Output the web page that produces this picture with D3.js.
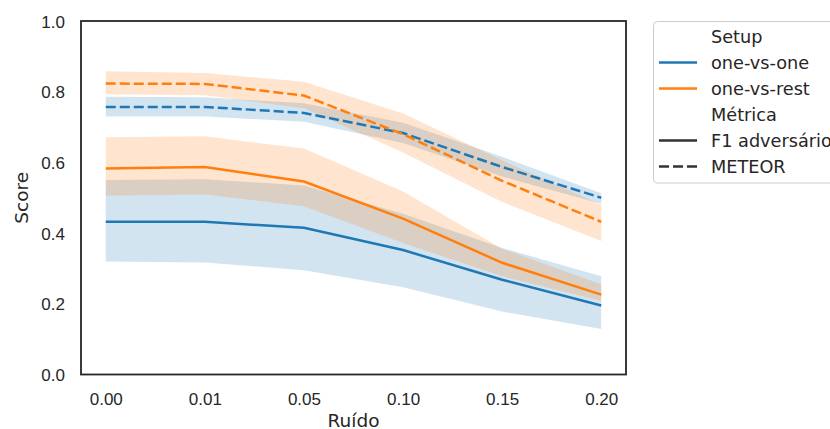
<!DOCTYPE html>
<html><head><meta charset="utf-8">
<script src="https://cdn.jsdelivr.net/npm/d3@7"></script>
<style>body{margin:0;background:#fff;} svg{display:block;font-family:"DejaVu Sans",sans-serif;}</style>
</head><body>
<svg id="chart" width="830" height="429"></svg>
<script>
// ---- data ----
const xLabels = ["0.00","0.01","0.05","0.10","0.15","0.20"];
const yTicks = [0.0,0.2,0.4,0.6,0.8,1.0];
const setups = ["one-vs-one","one-vs-rest"];
const metrics = ["F1 adversário","METEOR"];

const ovoF1    = [0.432,0.432,0.415,0.352,0.268,0.195];
const ovoF1Lo  = [0.320,0.317,0.295,0.247,0.178,0.129];
const ovoF1Hi  = [0.550,0.552,0.535,0.455,0.358,0.278];
const ovrF1    = [0.583,0.587,0.546,0.441,0.316,0.226];
const ovrF1Lo  = [0.506,0.509,0.476,0.372,0.278,0.208];
const ovrF1Hi  = [0.671,0.674,0.639,0.518,0.356,0.255];
const ovoMet   = [0.757,0.757,0.740,0.683,0.587,0.500];
const ovoMetLo = [0.730,0.730,0.715,0.655,0.560,0.483];
const ovoMetHi = [0.786,0.784,0.767,0.712,0.616,0.513];
const ovrMet   = [0.823,0.822,0.789,0.680,0.548,0.432];
const ovrMetLo = [0.793,0.790,0.753,0.628,0.488,0.378];
const ovrMetHi = [0.858,0.853,0.828,0.738,0.606,0.480];

const series = [
  {setup:"one-vs-one", metric:"F1 adversário", mean:ovoF1, lo:ovoF1Lo, hi:ovoF1Hi},
  {setup:"one-vs-one", metric:"METEOR", mean:ovoMet, lo:ovoMetLo, hi:ovoMetHi},
  {setup:"one-vs-rest", metric:"F1 adversário", mean:ovrF1, lo:ovrF1Lo, hi:ovrF1Hi},
  {setup:"one-vs-rest", metric:"METEOR", mean:ovrMet, lo:ovrMetLo, hi:ovrMetHi},
];

// ---- styles ----
const color = d3.scaleOrdinal().domain(setups).range(["#1f77b4","#ff7f0e"]);
const dash = d3.scaleOrdinal().domain(metrics).range([null,"10,4"]);
const textColor = "#262626";

const svg = d3.select("#chart");
const L = 81, R = 626, T = 21, B = 374.5;
const x = d3.scalePoint().domain(xLabels).range([L,R]).padding(0.25);
const y = d3.scaleLinear().domain([0,1]).range([B,T]);

// bands
const area = d3.area().x((d,i)=>x(xLabels[i])).y0(d=>y(d[0])).y1(d=>y(d[1]));
const line = d3.line().x((d,i)=>x(xLabels[i])).y(d=>y(d));
series.forEach(s=>{
  const pts = s.lo.map((v,i)=>[v,s.hi[i]]);
  svg.append("path").attr("d",area(pts)).attr("fill",color(s.setup)).attr("fill-opacity",0.2).attr("stroke","none");
});
series.forEach(s=>{
  svg.append("path").attr("d",line(s.mean)).attr("fill","none")
    .attr("stroke",color(s.setup)).attr("stroke-width",2.5)
    .attr("stroke-dasharray",dash(s.metric));
});

// axes
const fs = 17;
const xAxis = d3.axisBottom(x).tickSize(0).tickPadding(0);
const gx = svg.append("g").attr("transform",`translate(0,${B})`).call(xAxis);
gx.select(".domain").remove();
gx.selectAll("text").attr("font-size",fs).attr("fill",textColor).attr("dy",null).attr("y",30);
const yAxis = d3.axisLeft(y).tickValues(yTicks).tickFormat(d3.format(".1f")).tickSize(0).tickPadding(0);
const gy = svg.append("g").attr("transform",`translate(${65},0)`).call(yAxis);
gy.select(".domain").remove();
gy.selectAll("text").attr("font-size",fs).attr("fill",textColor).attr("x",0).attr("dy","0.36em");
svg.selectAll(".tick line").remove();

// spines
svg.append("rect").attr("x",L).attr("y",T).attr("width",R-L).attr("height",B-T)
  .attr("fill","none").attr("stroke",textColor).attr("stroke-width",1.8);

// axis labels
svg.append("text").attr("x",(L+R)/2).attr("y",426.5).attr("text-anchor","middle")
  .attr("font-size",18.5).attr("fill",textColor).text("Ruído");
svg.append("text").attr("transform",`translate(28.3,${(T+B)/2}) rotate(-90)`).attr("text-anchor","middle")
  .attr("font-size",18.5).attr("fill",textColor).text("Score");

// legend
const lfs = 17.7;
const lg = svg.append("g");
lg.append("rect").attr("x",653.5).attr("y",21.5).attr("width",220).attr("height",161.5).attr("rx",4)
  .attr("fill","#fff").attr("fill-opacity",0.8).attr("stroke","#cccccc").attr("stroke-width",1);
const entries = [
  {label:"Setup", title:true},
  {label:setups[0], stroke:color(setups[0]), dash:null},
  {label:setups[1], stroke:color(setups[1]), dash:null},
  {label:"Métrica", title:true},
  {label:metrics[0], stroke:"#333333", dash:dash(metrics[0])},
  {label:metrics[1], stroke:"#333333", dash:dash(metrics[1])},
];
entries.forEach((e,i)=>{
  const cy = 36.5 + i*26;
  if(!e.title){
    lg.append("line").attr("x1",659).attr("x2",697).attr("y1",cy).attr("y2",cy)
      .attr("stroke",e.stroke).attr("stroke-width",2.5).attr("stroke-dasharray",e.dash);
  }
  lg.append("text").attr("x",711).attr("y",cy).attr("dy","0.36em").attr("font-size",lfs)
    .attr("fill",textColor).text(e.label);
});
</script>
</body></html>
